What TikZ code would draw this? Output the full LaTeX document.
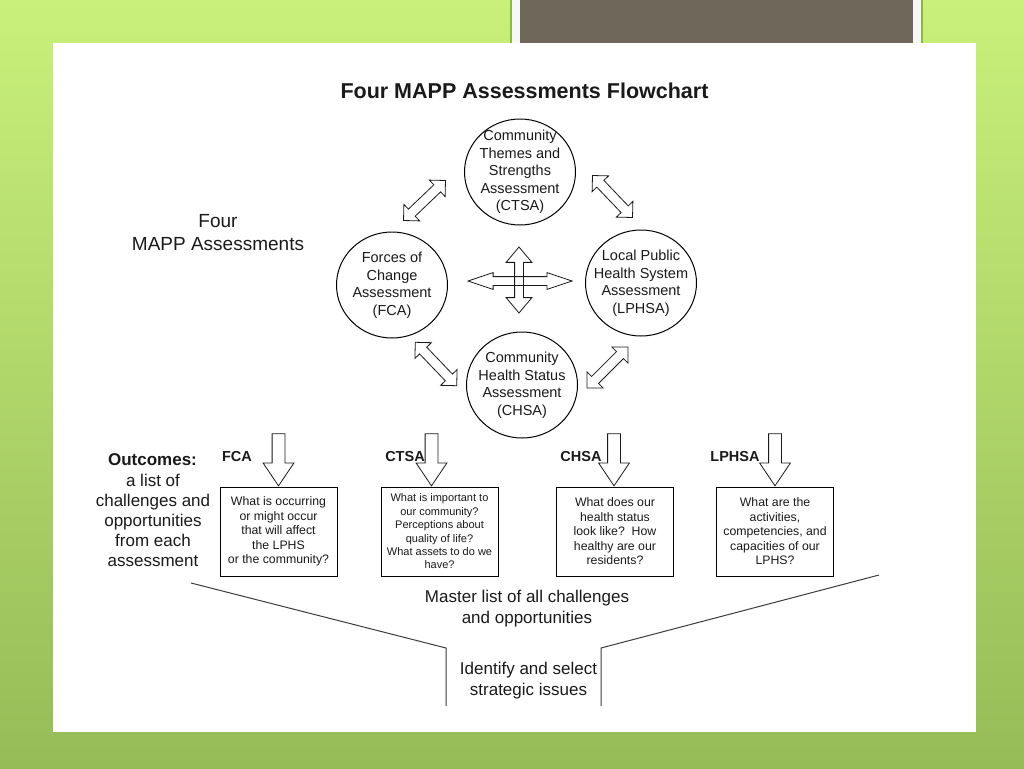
\documentclass[tikz,border=0pt]{standalone}
\usepackage{fontspec}
\setmainfont{Liberation Sans}
\usetikzlibrary{shapes.geometric,shapes.arrows,calc}
\definecolor{limetop}{HTML}{C8F07A}
\definecolor{limebot}{HTML}{96BC58}
\definecolor{limeline}{HTML}{8CB84A}
\definecolor{taupe}{HTML}{6E685B}
\definecolor{ink}{HTML}{1A1A1A}
\begin{document}
\begin{tikzpicture}[x=1pt,y=-1pt,
  every node/.style={text=ink},
  assess/.style={ellipse, draw=black, line width=1pt, minimum width=111pt, minimum height=106pt,
    inner sep=-12pt, align=center, font=\fontsize{14.5}{17.5}\selectfont},
  qbox/.style={rectangle, draw=black, line width=0.9pt, minimum width=117pt, minimum height=89pt,
    inner sep=0pt, align=center, font=\fontsize{12.3}{14.5}\selectfont},
  tag/.style={font=\bfseries\fontsize{14.5}{17}\selectfont},
  plain/.style={align=center, font=\fontsize{17}{21}\selectfont},
  darrowd/.style={double arrow, draw=ink, line width=0.8pt, fill=white, inner xsep=0pt, inner ysep=4.5pt,
    double arrow head extend=6.5pt, double arrow tip angle=90, minimum width=0pt, minimum height=58pt},
  downarr/.style={single arrow, draw=ink, line width=0.8pt, fill=white, inner xsep=0pt, inner ysep=6pt,
    single arrow head extend=9pt, single arrow tip angle=68, minimum width=0pt, minimum height=52pt,
    rotate=-90, anchor=tip},
  funnel/.style={draw=ink!85, line width=1pt}
]
\useasboundingbox (0,0) rectangle (1024,768);
% background
\shade[top color=limetop, bottom color=limebot] (0,0) rectangle (1024,768);
\fill[limeline] (510,0) rectangle (923,43);
\fill[white!94!gray] (512,0) rectangle (921,43);
\fill[taupe] (520,0) rectangle (913,43);
\fill[white] (53,43) rectangle (976,732);

% title and left label
\node[font=\bfseries\fontsize{21.5}{26}\selectfont] (title) at (524.5,91) {Four MAPP Assessments Flowchart};
\node[align=center, font=\fontsize{19}{23}\selectfont] (four) at (218,232.5) {Four\\MAPP Assessments};

% assessments
\node[assess] (ctsa) at (520,172) {Community\\Themes and\\Strengths\\Assessment\\(CTSA)};
\node[assess] (fca) at (392,285) {Forces of\\Change\\Assessment\\(FCA)};
\node[assess] (lphsa) at (641,283) {Local Public\\Health System\\Assessment\\(LPHSA)};
\node[assess] (chsa) at (522,385) {Community\\Health Status\\Assessment\\(CHSA)};

% diagonal double arrows
\coordinate (a1s) at (403,221); \coordinate (a1e) at (446,180);
\coordinate (a2s) at (592,175); \coordinate (a2e) at (633,218);
\coordinate (a3s) at (415,342); \coordinate (a3e) at (457,386);
\coordinate (a4s) at (628,347); \coordinate (a4e) at (587,388);
\path (a1s) -- node[darrowd, sloped] (arr1) {} (a1e);
\path (a2s) -- node[darrowd, sloped] (arr2) {} (a2e);
\path (a3s) -- node[darrowd, sloped, minimum height=60pt] (arr3) {} (a3e);
\path (a4s) -- node[darrowd, sloped] (arr4) {} (a4e);

% central four-way arrow
\node[darrowd, fill=none, minimum height=104pt, inner ysep=4pt, double arrow head extend=4pt,
  double arrow tip angle=37] (hx) at (520,281) {};
\node[darrowd, fill=none, rotate=90, minimum height=66pt, inner ysep=4pt, double arrow head extend=8.5pt,
  double arrow tip angle=80] (vx) at (519,280) {};

% outcome labels
\node[tag] (lfca) at (237,457) {FCA};
\node[tag] (lctsa) at (405,457) {CTSA};
\node[tag] (lchsa) at (581,457) {CHSA};
\node[tag] (llphsa) at (735,457) {LPHSA};

% outcome boxes
\node[qbox] (fcab) at (278.5,531.5) {What is occurring\\or might occur\\that will affect\\the LPHS\\or the community?};
\node[qbox, font=\fontsize{11}{13.4}\selectfont] (ctsab) at (439.5,531.5) {What is important to\\our community?\\Perceptions about\\quality of life?\\What assets to do we\\have?};
\node[qbox] (chsab) at (615,531.5) {What does our\\health status\\look like?~~How\\healthy are our\\residents?};
\node[qbox] (lphsab) at (775,531.5) {What are the\\activities,\\competencies, and\\capacities of our\\LPHS?};

% down arrows
\node[downarr] (dfca) at (fcab.north) {};
\node[downarr] (dctsa) at ($(ctsab.north)+(-8,0)$) {};
\node[downarr] (dchsa) at ($(chsab.north)+(-1,0)$) {};
\node[downarr] (dlphsa) at (lphsab.north) {};

% outcomes text
\node[font=\bfseries\fontsize{17}{20}\selectfont] (outc) at (152.5,460) {Outcomes:};
\node[align=center, font=\fontsize{17}{20.2}\selectfont] (outl) at (153,520.5) {a list of\\challenges and\\opportunities\\from each\\assessment};

% funnel
\coordinate (fl1) at (191,583); \coordinate (fl2) at (446,648); \coordinate (fl3) at (446,706);
\coordinate (fr1) at (879,575); \coordinate (fr2) at (601,648); \coordinate (fr3) at (601,706);
\draw[funnel] (fl1) -- (fl2) -- (fl3);
\draw[funnel] (fr1) -- (fr2) -- (fr3);
\node[plain] (master) at (527,608.5) {Master list of all challenges\\and opportunities};
\node[plain] (ident) at (528.5,680.5) {Identify and select\\strategic issues};
\end{tikzpicture}
\end{document}
